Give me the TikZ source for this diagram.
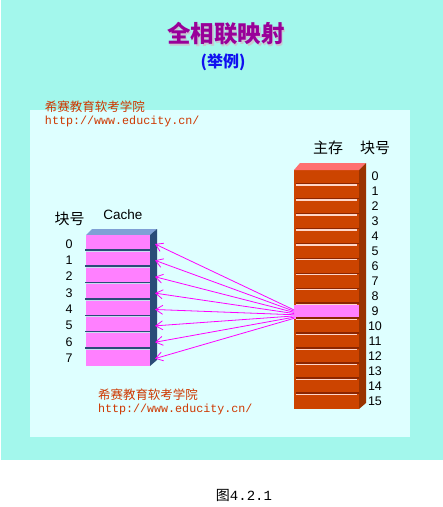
\documentclass[tikz,border=0pt]{standalone}
\usepackage{fontspec}
\setmainfont{Liberation Sans}
\newfontfamily\cjk{Noto Sans CJK SC}
\newfontfamily\monof{Liberation Mono}
\usetikzlibrary{arrows.meta}
\definecolor{aquabg}{RGB}{163,247,236}
\definecolor{panel}{RGB}{222,255,255}
\definecolor{titlepurple}{RGB}{153,0,153}
\definecolor{subblue}{RGB}{16,16,240}
\definecolor{wmorange}{RGB}{206,56,0}
\definecolor{memfront}{RGB}{204,68,0}
\definecolor{memside}{RGB}{153,51,0}
\definecolor{memtop}{RGB}{255,112,112}
\definecolor{memdark}{RGB}{140,38,0}
\definecolor{memlight}{RGB}{255,214,200}
\definecolor{cpink}{RGB}{255,128,255}
\definecolor{cside}{RGB}{42,76,120}
\definecolor{ctop}{RGB}{127,160,213}
\definecolor{clight}{RGB}{200,220,240}
\definecolor{arrmag}{RGB}{255,0,255}
\definecolor{shadowgray}{RGB}{200,200,210}
\begin{document}
\begin{tikzpicture}[x=1pt,y=-1pt,
  txt/.style={inner sep=0pt,outer sep=0pt},
  cjklabel/.style={txt,font=\cjk\fontsize{15}{15}\selectfont},
  numlabel/.style={txt,font=\fontsize{12.5}{12.5}\selectfont},
  wmcn/.style={txt,anchor=west,text=wmorange,font=\cjk\fontsize{12.5}{12.5}\selectfont},
  wmurl/.style={txt,anchor=west,text=wmorange,font=\monof\fontsize{11.7}{11.7}\selectfont},
  slot/.style={rectangle,inner sep=0pt,outer sep=0pt,minimum width=64pt,minimum height=14pt,fill=cpink},
  memrow/.style={rectangle,inner sep=0pt,outer sep=0pt,minimum width=65pt,minimum height=14.9pt,fill=cpink},
  arr/.style={draw=arrmag,line width=0.8pt,-{Straight Barb[length=7pt,width=9pt]}}
]
\useasboundingbox (0,0) rectangle (443,507);
\fill[aquabg] (1,0) rectangle (443,460);
\fill[panel] (30,110) rectangle (410,437);

% title with shadow
\node[txt,text=shadowgray] (titleshadow) at (227.5,35.5) {\cjk\bfseries\fontsize{23.5}{23.5}\selectfont 全相联映射};
\node[txt,text=titlepurple] (title) at (226,34) {\cjk\bfseries\fontsize{23.5}{23.5}\selectfont 全相联映射};
\node[txt,text=subblue] (sub) at (223,62) {\cjk\bfseries\fontsize{16}{16}\selectfont (举例)};

% watermarks
\node[wmcn] (wm1) at (45,107) {希赛教育软考学院};
\node[wmurl] (url1) at (45,121) {http://www.educity.cn/};
\node[wmcn] (wm2) at (98,395) {希赛教育软考学院};
\node[wmurl] (url2) at (98,409) {http://www.educity.cn/};

% main memory
\fill[memfront] (294,170) rectangle (359,409);
\fill[memtop] (294,170) -- (300,163) -- (366,163) -- (359,170) -- cycle;
\fill[memside] (359,170) -- (366,163) -- (366,403) -- (359,409) -- cycle;
\node[memrow] (m9) at (326.5,311.95) {};
\foreach \i in {1,...,15}{
  \pgfmathsetmacro{\b}{170+14.94*\i}
  \fill[memdark] (296,\b-2) rectangle (359,\b-0.6);
  \fill[memlight] (296,\b-0.6) rectangle (357,\b+0.8);
}
\node[cjklabel] (mainlbl) at (328,148) {主存};
\node[cjklabel] (mblk) at (375,148) {块号};
\foreach \i in {0,...,15}{
  \node[numlabel] (mn\i) at (375,176+15*\i) {\i};
}

% cache
\fill[cpink] (86,235) rectangle (150,366);
\fill[ctop] (86,235) -- (92,229) -- (157,229) -- (150,235) -- cycle;
\fill[cside] (150,235) -- (157,229) -- (157,360) -- (150,366) -- cycle;
\foreach \i in {0,...,7}{
  \pgfmathsetmacro{\t}{235+16.375*\i}
  \node[slot] (c\i) at (118,\t+7) {};
  \coordinate (t\i) at (155,\t+9);
}
\foreach \i in {0,...,6}{
  \pgfmathsetmacro{\t}{235+16.375*\i}
  \fill[cside] (84.5,\t+14) rectangle (150,\t+15.5);
  \fill[clight] (86,\t+15.5) rectangle (150,\t+16.375);
}
\node[cjklabel] (cblk) at (69.5,219) {块号};
\node[txt,font=\fontsize{13.5}{13.5}\selectfont] (clbl) at (123,215) {Cache};
\foreach \i in {0,...,7}{
  \node[numlabel] (cn\i) at (69,244+16.3*\i) {\i};
}

% arrows
\foreach \i in {0,...,7}{
  \pgfmathsetmacro{\s}{2-1.2*\i}
  \draw[arr] ([yshift=\s pt]m9.west) -- (t\i);
}

% caption
\node[txt] (cap) at (244,495) {\cjk\fontsize{14}{14}\selectfont 图\monof 4.2.1};
\end{tikzpicture}
\end{document}
